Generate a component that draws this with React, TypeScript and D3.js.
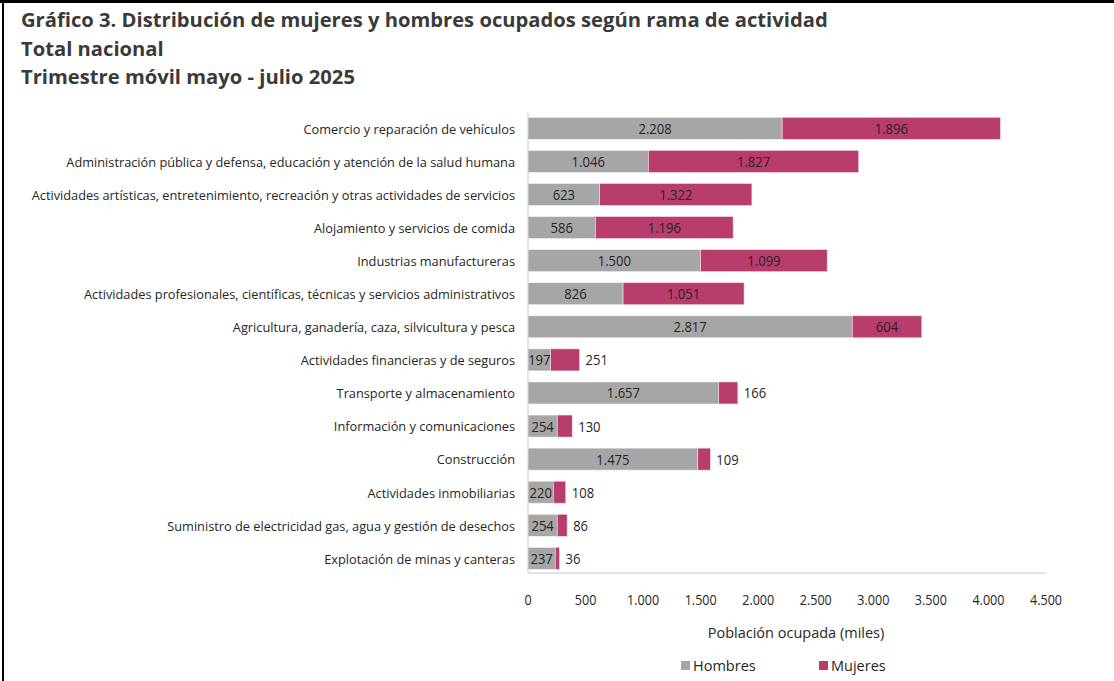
import React from "react";
import * as d3 from "d3";

const categories = [
  "Comercio y reparación de vehículos",
  "Administración pública y defensa, educación y atención de la salud humana",
  "Actividades artísticas, entretenimiento, recreación y otras actividades de servicios",
  "Alojamiento y servicios de comida",
  "Industrias manufactureras",
  "Actividades profesionales, científicas, técnicas y servicios administrativos",
  "Agricultura, ganadería, caza, silvicultura y pesca",
  "Actividades financieras y de seguros",
  "Transporte y almacenamiento",
  "Información y comunicaciones",
  "Construcción",
  "Actividades inmobiliarias",
  "Suministro de electricidad gas, agua y gestión de desechos",
  "Explotación de minas y canteras",
];
const hombres = [2208, 1046, 623, 586, 1500, 826, 2817, 197, 1657, 254, 1475, 220, 254, 237];
const mujeres = [1896, 1827, 1322, 1196, 1099, 1051, 604, 251, 166, 130, 109, 108, 86, 36];
const xTicks = [0, 500, 1000, 1500, 2000, 2500, 3000, 3500, 4000, 4500];
const titleLines = [
  "Gráfico 3. Distribución de mujeres y hombres ocupados según rama de actividad",
  "Total nacional",
  "Trimestre móvil mayo - julio 2025",
];
const seriesNames = ["Hombres", "Mujeres"];

const GRAY = "#a6a6a6";
const MAG = "#b83c6c";
const TXT = "#262626";
const FONT = "'Open Sans', sans-serif";

const fmt = (v: number) => {
  const s = String(v);
  return s.length > 3 ? s.slice(0, s.length - 3) + "." + s.slice(s.length - 3) : s;
};

export default function App() {
  const x = d3.scaleLinear().domain([0, 4500]).range([528, 1046]);
  const y = d3.scaleBand<string>().domain(categories).range([111.8, 574.9]).paddingInner(0.335).paddingOuter(0.1675);
  const bw = y.bandwidth();
  const sxCat = 0.947;
  const sxNum = 0.9;

  return (
    <svg width={1114} height={681} style={{ position: "absolute", left: 0, top: 0, background: "#fff" }} fontFamily={FONT}>
      <rect x={0} y={0} width={1114} height={681} fill="#fff" />
      <line x1={0} x2={1114} y1={1.5} y2={1.5} stroke="#000" strokeWidth={3} />
      <line x1={3} x2={3} y1={0} y2={681} stroke="#000" strokeWidth={2} />
      {titleLines.map((t, i) => (
        <text key={i} x={21} y={27 + i * 28.5} fontSize={20.2} fontWeight={700} fill="#3a3a3a">
          {t}
        </text>
      ))}
      {/* axes */}
      <line x1={x(0)} x2={x(0)} y1={113} y2={573} stroke="#d9d9d9" strokeWidth={1.5} />
      <line x1={x(0)} x2={x(4500)} y1={573} y2={573} stroke="#d9d9d9" strokeWidth={1.5} />
      {categories.map((c, i) => {
        const yc = (y(c) as number) + bw / 2;
        const h = hombres[i];
        const m = mujeres[i];
        const mInside = m >= 300;
        return (
          <g key={c}>
            <g transform={`translate(515,${yc + 5.3}) scale(${sxCat},1)`}>
              <text x={0} y={0} textAnchor="end" fontSize={13.5} fill={TXT}>
                {c}
              </text>
            </g>
            <rect x={x(0)} y={y(c)} width={x(h) - x(0)} height={bw} fill={GRAY} stroke="#f2f2f2" strokeWidth={0.6} />
            <rect x={x(h)} y={y(c)} width={x(h + m) - x(h)} height={bw} fill={MAG} stroke="#f2dbe4" strokeWidth={0.6} />
            <g transform={`translate(${(x(0) + x(h)) / 2},${yc + 5.5}) scale(${sxNum},1)`}>
              <text textAnchor="middle" fontSize={14.5} fill={TXT}>
                {fmt(h)}
              </text>
            </g>
            {mInside ? (
              <g transform={`translate(${(x(h) + x(h + m)) / 2},${yc + 5.5}) scale(${sxNum},1)`}>
                <text textAnchor="middle" fontSize={14.5} fill={TXT}>
                  {fmt(m)}
                </text>
              </g>
            ) : (
              <g transform={`translate(${x(h + m) + 6},${yc + 5.5}) scale(${sxNum},1)`}>
                <text textAnchor="start" fontSize={14.5} fill={TXT}>
                  {fmt(m)}
                </text>
              </g>
            )}
          </g>
        );
      })}
      {xTicks.map((t) => (
        <g key={t} transform={`translate(${x(t)},605) scale(0.88,1)`}>
          <text textAnchor="middle" fontSize={14.3} fill={TXT}>
            {fmt(t)}
          </text>
        </g>
      ))}
      <g transform={`translate(796,638) scale(1,1)`}>
        <text textAnchor="middle" fontSize={14.5} fill={TXT}>
          Población ocupada (miles)
        </text>
      </g>
      {seriesNames.map((s, i) => {
        const lx = 681 + i * 138;
        return (
          <g key={s}>
            <rect x={lx} y={661} width={9} height={9} fill={i === 0 ? GRAY : MAG} />
            <g transform={`translate(${lx + 12},671) scale(1,1)`}>
              <text fontSize={14.5} fill={TXT}>
                {s}
              </text>
            </g>
          </g>
        );
      })}
    </svg>
  );
}
